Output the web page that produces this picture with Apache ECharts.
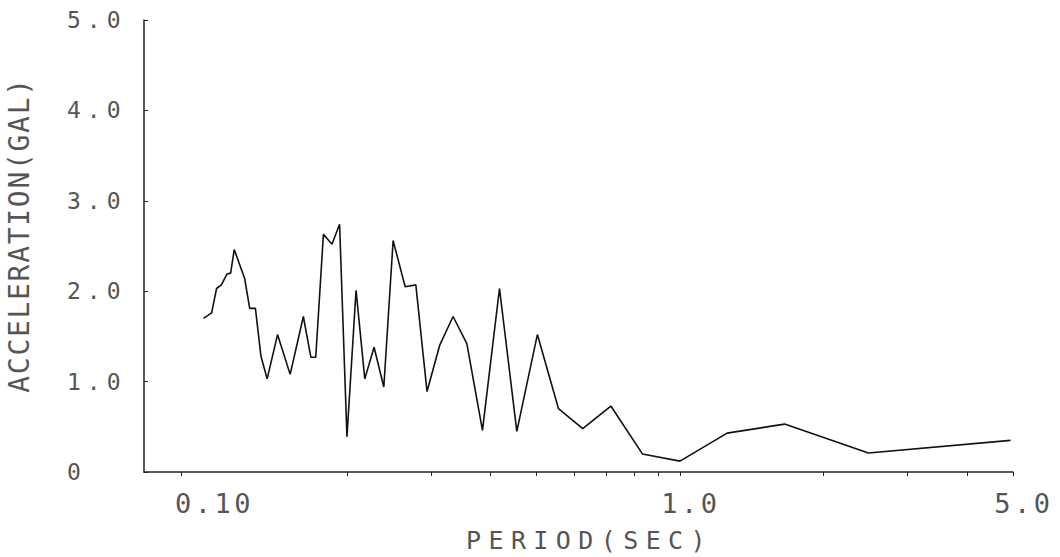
<!DOCTYPE html>
<html><head><meta charset="utf-8">
<script src="https://cdn.jsdelivr.net/npm/echarts@6/dist/echarts.min.js"></script>
<style>html,body{margin:0;padding:0;background:#fff}#main{width:1060px;height:557px}</style>
</head><body><div id="main"></div>
<script>
const periods = [0.100,0.104,0.1065,0.109,0.112,0.114,0.116,0.122,0.125,0.1285,0.132,0.136,0.143,0.152,0.162,0.168,0.172,0.1785,0.186,0.193,0.200,0.209,0.218,0.228,0.239,0.250,0.265,0.279,0.2945,0.313,0.334,0.357,0.385,0.418,0.4545,0.502,0.556,0.625,0.716,0.834,1.0,1.256,1.658,2.486,4.94];
const accel = [1.70,1.76,2.03,2.07,2.19,2.20,2.46,2.14,1.81,1.81,1.28,1.03,1.52,1.08,1.72,1.27,1.27,2.63,2.52,2.74,0.39,2.01,1.03,1.38,0.94,2.56,2.05,2.07,0.89,1.40,1.72,1.42,0.46,2.03,0.45,1.52,0.70,0.48,0.73,0.20,0.12,0.43,0.53,0.21,0.35];
const xLabelValues = [0.1, 1, 5];
const xLabelTexts = ['0.10', '1.0', '5.0'];
const xTickValues = [0.09, 0.2, 0.3, 0.4, 0.5, 0.6, 0.7, 0.8, 0.9, 1, 2, 3, 4, 5];
const yTickLabels = ['0', '1.0', '2.0', '3.0', '4.0', '5.0'];
const xName = 'PERIOD(SEC)';
const yName = 'ACCELERATION(GAL)';

const FONT = "'DejaVu Sans Mono', 'Liberation Mono', monospace";
const TXT = '#555';
const chart = echarts.init(document.getElementById('main'), null, {renderer: 'svg'});
chart.setOption({
  animation: false,
  backgroundColor: '#fff',
  grid: {left: 144, right: 47, top: 20, bottom: 85, outerBoundsMode: 'none', containLabel: false},
  xAxis: {
    type: 'log', logBase: 10, min: 0.075, max: 5,
    name: xName, nameLocation: 'middle', nameGap: 56,
    nameTextStyle: {fontFamily: FONT, fontSize: 25, color: TXT, padding: [0, 0, 0, 22]},
    axisLine: {show: true, lineStyle: {color: '#222', width: 1.5}},
    axisTick: {show: true, customValues: xTickValues, length: 4, inside: false, lineStyle: {color: '#222', width: 1}},
    axisLabel: {
      customValues: xLabelValues, fontFamily: FONT, fontSize: 27, color: TXT, margin: 18,
      padding: [0, 0, 0, 22],
      formatter: function (v) { const i = xLabelValues.findIndex(a => Math.abs(a - v) < 1e-6); return i >= 0 ? xLabelTexts[i] : ''; }
    },
    splitLine: {show: false}, minorTick: {show: false}
  },
  yAxis: {
    type: 'value', min: 0, max: 5, interval: 1,
    name: yName, nameLocation: 'middle', nameGap: 111, nameRotate: 90,
    nameTextStyle: {fontFamily: FONT, fontSize: 28, color: TXT, padding: [0, 0, 0, 22]},
    axisLine: {show: true, lineStyle: {color: '#222', width: 1.5}},
    axisTick: {show: true, length: 4, inside: true, lineStyle: {color: '#222', width: 1}},
    axisLabel: {
      fontFamily: FONT, fontSize: 23, color: TXT, margin: 77, align: 'left',
      formatter: function (v) { return yTickLabels[Math.round(v)]; }
    },
    splitLine: {show: false}
  },
  series: [{
    type: 'line', data: periods.map((p, i) => [p, accel[i]]),
    showSymbol: false, symbol: 'none', silent: true,
    lineStyle: {color: '#111', width: 1.6}
  }]
});

const spacingBySize = {23: 6, 27: 3.5, 28: 1.7, 25: 7.4};
function applySpacing() {
  document.querySelectorAll('#main svg text').forEach(function (el) {
    const fs = Math.round(parseFloat(getComputedStyle(el).fontSize));
    if (spacingBySize[fs] !== undefined) el.setAttribute('letter-spacing', spacingBySize[fs] + 'px');
  });
}
applySpacing();
chart.on('finished', applySpacing);
</script></body></html>
